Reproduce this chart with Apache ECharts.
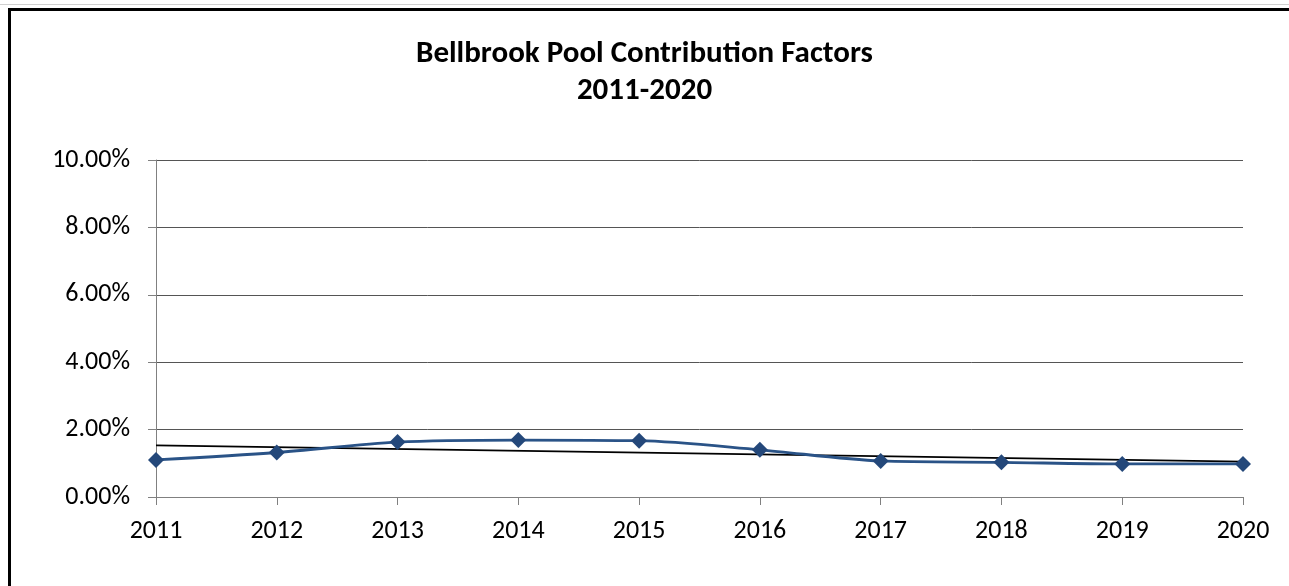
<!DOCTYPE html>
<html>
<head>
<meta charset="utf-8">
<script src="https://cdn.jsdelivr.net/npm/echarts@6/dist/echarts.min.js"></script>
<style>
  html, body { margin: 0; padding: 0; background: #fff; overflow: hidden; }
  #wrap { position: relative; width: 1289px; height: 586px; }
  #chart { position: absolute; left: 0; top: 0; width: 1289px; height: 586px; }
  #frame { position: absolute; left: 8px; top: 8px; width: 1290px; height: 600px;
           border: 3px solid #000; box-sizing: border-box; pointer-events: none; }
  #topline { position: absolute; left: 0; top: 4px; width: 1289px; height: 1px; background: #d0d0d0; }
</style>
</head>
<body>
<div id="wrap">
  <div id="chart"></div>
  <div id="topline"></div>
  <div id="frame"></div>
</div>
<script>
// Years on the horizontal axis
const years = ['2011', '2012', '2013', '2014', '2015', '2016', '2017', '2018', '2019', '2020'];
// Pool contribution factor per year, in percent
const factors = [1.10, 1.32, 1.63, 1.69, 1.67, 1.40, 1.07, 1.03, 0.98, 0.98];
// Linear trendline end values (first and last year), in percent
const trendEnds = [1.53, 1.05];
// Value-axis ticks, in percent
const yTicks = [0, 2, 4, 6, 8, 10];

const chart = echarts.init(document.getElementById('chart'), null, { renderer: 'canvas' });
const font = 'Calibri, Carlito, "Open Sans", "Noto Sans", sans-serif';

chart.setOption({
  animation: false,
  backgroundColor: '#fff',
  title: {
    text: 'Bellbrook Pool Contribution Factors\n2011-2020',
    left: 'center',
    top: 31,
    textStyle: {
      fontFamily: font, fontWeight: 'bold', fontSize: 31, color: '#000', lineHeight: 37
    }
  },
  grid: { left: 156, right: 46, top: 160, bottom: 89, containLabel: false },
  xAxis: {
    type: 'category',
    data: years,
    boundaryGap: false,
    axisLine: { lineStyle: { color: '#808080', width: 1 } },
    axisTick: { alignWithLabel: true, length: 8, lineStyle: { color: '#808080' } },
    axisLabel: { fontFamily: font, fontSize: 26, color: '#000', margin: 21 },
    splitLine: { show: false }
  },
  yAxis: {
    type: 'value',
    min: yTicks[0],
    max: yTicks[yTicks.length - 1],
    interval: yTicks[1] - yTicks[0],
    axisLine: { show: true, lineStyle: { color: '#808080', width: 1 } },
    axisTick: { show: true, length: 8, lineStyle: { color: '#808080' } },
    axisLabel: {
      fontFamily: font, fontSize: 26, color: '#000', margin: 26,
      formatter: v => v.toFixed(2) + '%'
    },
    splitLine: { show: true, lineStyle: { color: '#555', width: 1 } }
  },
  series: [
    {
      name: 'Trend',
      type: 'line',
      data: [[0, trendEnds[0]], [years.length - 1, trendEnds[1]]],
      symbol: 'none',
      lineStyle: { color: '#000', width: 1.8 },
      z: 2
    },
    {
      name: 'Contribution Factor',
      type: 'line',
      data: factors,
      smooth: 0.3,
      symbol: 'diamond',
      symbolSize: 16,
      itemStyle: { color: '#24487A' },
      lineStyle: { color: '#2A5387', width: 2.8 },
      z: 3
    }
  ]
});
</script>
</body>
</html>
